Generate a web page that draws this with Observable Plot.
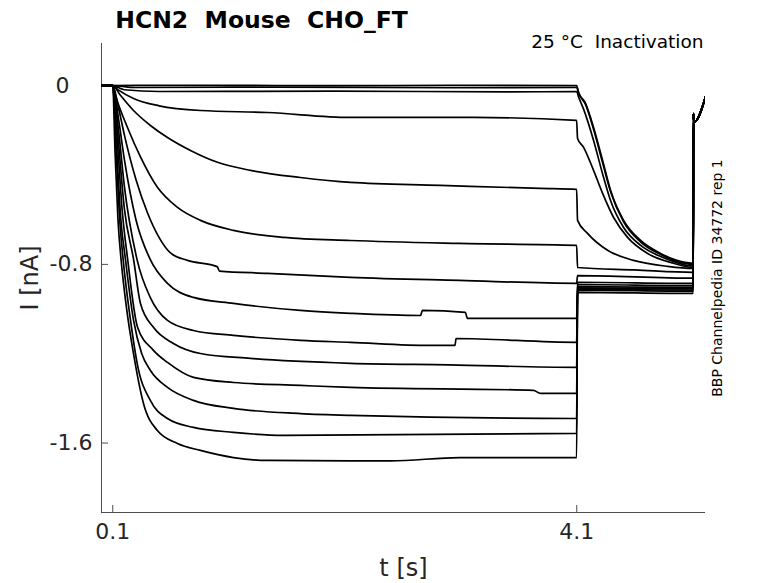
<!DOCTYPE html>
<html>
<head>
<meta charset="utf-8">
<script src="https://cdn.jsdelivr.net/npm/d3@7"></script>
<script src="https://cdn.jsdelivr.net/npm/@observablehq/plot@0.6"></script>
<style>
  html, body { margin: 0; padding: 0; background: #fff; }
  #chart { width: 778px; height: 583px; }
</style>
</head>
<body>
<div id="chart"></div>
<script>
// ---- chart text ----
const titleText = "HCN2  Mouse  CHO_FT";
const subtitleText = "25 °C  Inactivation";
const sideText = "BBP Channelpedia ID 34772 rep 1";
const xLabel = "t [s]";
const yLabel = "I [nA]";

// ---- ticks ----
const xTicks = [0.1, 4.1];
const xTickLabels = ["0.1", "4.1"];
const yTicks = [0, -0.8, -1.6];
const yTickLabels = ["0", "-0.8", "-1.6"];

// ---- sweeps: [t (s), I (nA)] ----
const sweep01 = [[0,0],[0.1,0.001],[1.0,0.002],[2.0,0],[3.0,0.002],[4.099,0],
  [4.116,-0.03],[4.176,-0.079],[4.245,-0.187],[4.323,-0.335],[4.392,-0.469],[4.504,-0.603],[4.651,-0.693],[4.823,-0.751],[4.95,-0.78],[5.104,-0.795]];
const sweep02 = [[0,0],[0.1,0],[0.3,-0.008],[1.5,-0.006],[3.0,-0.009],[4.099,-0.008],
  [4.118,-0.035],[4.176,-0.085],[4.245,-0.195],[4.323,-0.345],[4.392,-0.475],[4.504,-0.61],[4.651,-0.7],[4.823,-0.756],[4.95,-0.785],[5.104,-0.8]];
const sweep03 = [[0,0],[0.1,0],[0.2,-0.018],[0.5,-0.026],[2.0,-0.024],[3.5,-0.028],[4.099,-0.026],
  [4.116,-0.05],[4.159,-0.105],[4.245,-0.245],[4.323,-0.395],[4.392,-0.515],[4.504,-0.635],[4.651,-0.715],[4.823,-0.765],[4.95,-0.79],[5.104,-0.808]];
const sweep04 = [[0,0],[0.1,0],[0.15,-0.02],[0.279,-0.057],[0.5,-0.09],[0.856,-0.111],[1.434,-0.12],[2.149,-0.142],[3.209,-0.142],[4.099,-0.155],
  [4.107,-0.236],[4.159,-0.276],[4.245,-0.379],[4.323,-0.482],[4.418,-0.59],[4.538,-0.679],[4.711,-0.751],[4.935,-0.795],[5.104,-0.814]];
const sweep05 = [[0,0],[0.1,0],[0.166,-0.043],[0.279,-0.111],[0.425,-0.178],[0.572,-0.232],[0.77,-0.29],[1.003,-0.343],[1.287,-0.379],[1.718,-0.411],[2.149,-0.433],[2.925,-0.446],[3.787,-0.46],[4.099,-0.464],
  [4.107,-0.603],[4.193,-0.661],[4.366,-0.737],[4.59,-0.782],[4.883,-0.809],[5.104,-0.818]];
const sweep06 = [[0,0],[0.1,0],[0.123,-0.043],[0.227,-0.187],[0.34,-0.32],[0.485,-0.455],[0.658,-0.545],[0.856,-0.603],[1.141,-0.648],[1.572,-0.679],[2.149,-0.693],[3.09,-0.706],[4.099,-0.715],
  [4.107,-0.814],[4.6,-0.825],[5.104,-0.836]];
const sweep07 = [[0,0],[0.1,0],[0.15,-0.1],[0.2,-0.22],[0.3,-0.42],[0.4,-0.57],[0.5,-0.68],[0.6,-0.75],[0.744,-0.782],[1.0,-0.81],[1.02,-0.83],[1.434,-0.84],[2.149,-0.858],[3.09,-0.872],[4.099,-0.885],
  [4.107,-0.85],[5.104,-0.862]];
const sweep08 = [[0,0],[0.1,0],[0.15,-0.15],[0.2,-0.33],[0.3,-0.6],[0.425,-0.78],[0.572,-0.885],[0.796,-0.948],[1.141,-0.975],[1.718,-1.006],[2.149,-1.019],[2.753,-1.029],[2.77,-1.006],[3.14,-1.015],[3.157,-1.042],[4.099,-1.042],
  [4.107,-0.88],[5.104,-0.885]];
const sweep09 = [[0,0],[0.1,0],[0.15,-0.2],[0.2,-0.45],[0.31,-0.78],[0.425,-0.95],[0.572,-1.051],[0.796,-1.096],[1.141,-1.118],[1.718,-1.14],[2.149,-1.149],[2.84,-1.163],[3.05,-1.163],[3.06,-1.132],[4.099,-1.149],
  [4.107,-0.89],[5.104,-0.895]];
const sweep10 = [[0,0],[0.1,0],[0.14,-0.2],[0.2,-0.55],[0.28,-0.78],[0.339,-0.975],[0.451,-1.082],[0.623,-1.154],[0.856,-1.199],[1.287,-1.221],[2.149,-1.243],[3.0,-1.25],[4.099,-1.261],
  [4.107,-0.9],[5.104,-0.903]];
const sweep11 = [[0,0],[0.1,0],[0.14,-0.25],[0.18,-0.55],[0.229,-0.78],[0.313,-1.08],[0.451,-1.185],[0.572,-1.239],[0.796,-1.306],[1.141,-1.329],[1.718,-1.342],[2.149,-1.351],[3.727,-1.364],[3.787,-1.378],[4.099,-1.378],
  [4.107,-0.905],[5.104,-0.91]];
const sweep12 = [[0,0],[0.1,0],[0.13,-0.25],[0.17,-0.6],[0.21,-0.78],[0.279,-1.05],[0.35,-1.2],[0.425,-1.275],[0.572,-1.351],[0.796,-1.409],[1.141,-1.445],[1.718,-1.468],[2.149,-1.476],[4.099,-1.49],
  [4.107,-0.91],[5.104,-0.915]];
const sweep13 = [[0,0],[0.1,0],[0.13,-0.3],[0.16,-0.6],[0.19,-0.78],[0.253,-1.05],[0.313,-1.25],[0.425,-1.41],[0.572,-1.49],[0.796,-1.53],[1.141,-1.552],[1.572,-1.566],[4.099,-1.557],
  [4.107,-0.915],[5.104,-0.92]];
const sweep14 = [[0,0],[0.1,0],[0.12,-0.3],[0.145,-0.6],[0.172,-0.78],[0.22,-1.0],[0.279,-1.2],[0.365,-1.423],[0.485,-1.544],[0.658,-1.602],[0.856,-1.633],[1.141,-1.665],[1.434,-1.678],[2.5,-1.68],[3.09,-1.665],[4.099,-1.665],
  [4.107,-0.925],[5.104,-0.93]];
// final step back toward holding potential (all sweeps share it)
const sweepEnd = [[5.106,-0.125],[5.11,-0.165],[5.21,-0.05]];

const sweeps = [sweep01,sweep02,sweep03,sweep04,sweep05,sweep06,sweep07,sweep08,sweep09,sweep10,sweep11,sweep12,sweep13,sweep14];
const rows = sweeps.flatMap((s, i) => s.concat(sweepEnd).map(([t, I]) => ({sweep: i, t, I})));

const xDomain = [0.003, 5.21];
const yDomain = [-1.911, 0.189];

const W = 778, H = 583, mL = 101, mR = 73, mT = 43, mB = 71;
const innerW = W - mL - mR, innerH = H - mT - mB;
const ink = "#262626";

const plot = Plot.plot({
  width: W, height: H,
  marginLeft: mL, marginRight: mR, marginTop: mT, marginBottom: mB,
  x: {domain: xDomain, axis: null},
  y: {domain: yDomain, axis: null},
  style: {fontFamily: "DejaVu Sans", color: ink, background: "#fff", overflow: "visible"},
  marks: [
    // axis lines
    Plot.ruleX([xDomain[0]], {stroke: "#4d4d4d", strokeWidth: 1}),
    Plot.ruleY([yDomain[0]], {stroke: "#4d4d4d", strokeWidth: 1}),
    // inward ticks
    Plot.tickY(yTicks, {y: d => d, stroke: "#4d4d4d", insetRight: innerW - 7}),
    Plot.tickX(xTicks, {x: d => d, stroke: "#4d4d4d", insetTop: innerH - 7}),
    // traces
    Plot.line(rows, {x: "t", y: "I", z: "sweep", stroke: "#000", strokeWidth: 1.7, curve: "monotone-x", clip: true}),
    // tick labels
    Plot.text(xTicks, {x: d => d, text: (d, i) => xTickLabels[i], frameAnchor: "bottom", lineAnchor: "top", dy: 11, fontSize: 22, fill: ink}),
    Plot.text(yTicks.filter(d => d === 0), {y: d => d, text: d => yTickLabels[yTicks.indexOf(d)], frameAnchor: "left", textAnchor: "end", dx: -32, fontSize: 22, fill: ink}),
    Plot.text(yTicks.filter(d => d !== 0), {y: d => d, text: d => yTickLabels[yTicks.indexOf(d)], frameAnchor: "left", textAnchor: "end", dx: -9, fontSize: 22, fill: ink}),
    // axis labels
    Plot.text([xLabel], {text: d => d, frameAnchor: "bottom", textAnchor: "middle", lineAnchor: "bottom", dy: 63, fontSize: 24, fill: ink}),
    Plot.text([yLabel], {text: d => d, frameAnchor: "left", textAnchor: "middle", rotate: -90, dx: -71, lineAnchor: "middle", fontSize: 24, fill: ink}),
    // title and annotations
    Plot.text([titleText], {text: d => d, frameAnchor: "top-left", textAnchor: "middle", lineAnchor: "bottom", dx: 160, dy: -16, fontSize: 23.5, fontWeight: "bold", fill: "#000"}),
    Plot.text([subtitleText], {text: d => d, frameAnchor: "top-right", textAnchor: "end", lineAnchor: "bottom", dx: -2, dy: 4, fontSize: 18.5, fill: "#000"}),
    Plot.text([sideText], {text: d => d, frameAnchor: "right", textAnchor: "middle", rotate: -90, dx: 12, dy: 0, lineAnchor: "middle", fontSize: 14, fill: "#000"})
  ]
});
document.getElementById("chart").appendChild(plot);
</script>
</body>
</html>
